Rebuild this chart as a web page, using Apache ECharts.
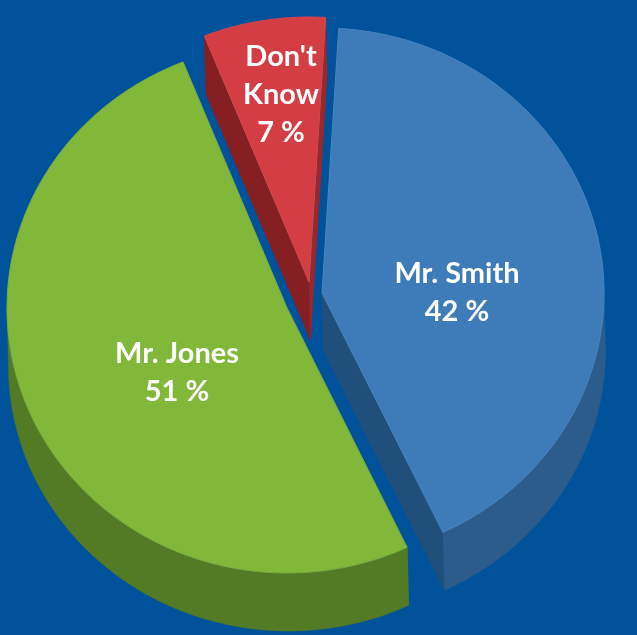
<!DOCTYPE html>
<html>
<head>
<meta charset="utf-8">
<style>html,body{margin:0;padding:0;background:#00529b}#chart{width:637px;height:635px}</style>
<script src="https://cdn.jsdelivr.net/npm/echarts@6/dist/echarts.min.js"></script>
</head>
<body>
<div id="chart"></div>
<script>
// Poll results, clockwise from the top of the pie
const candidates = ["Mr. Smith", "Mr. Jones", "Don't\nKnow"];
const shares = [42, 51, 7];

// Presentation: tilted pie drawn as an ellipse with an extruded rim
const startAngle = 3.4;
const radiusX = [282, 280, 282];
const radiusY = 265;
const extrude = { x: 1.5, y: 58 };
const hubs = [[322, 293], [287, 308], [309, 282]];
const labelSpots = [[457, 293], [177, 373], [281, 95]];
const faceColors = ['#3d7cb9', '#82b83a', '#d43d43'];
const rimColors = ['#4a86c0', '#76ad45', '#cf4a50'];
const sideColors = ['#2b5c8c', '#537a24', '#861f22'];
const startWallColors = ['#214f7b', '#587f27', '#861f22'];
const endWallColors = ['#214f7b', '#587f27', '#96282e'];
const paintOrder = [2, 1, 0];

const total = shares.reduce((a, b) => a + b, 0);
const spans = [];
shares.reduce((from, v) => {
  const to = from + v / total * 360;
  spans.push([from, to]);
  return to;
}, startAngle);

function rimPoint(i, deg, dx, dy) {
  const t = deg * Math.PI / 180;
  return [
    hubs[i][0] + dx + radiusX[i] * Math.sin(t),
    hubs[i][1] + dy - radiusY * Math.cos(t)
  ];
}
function arc(i, a, b, dx, dy) {
  const pts = [];
  const n = Math.max(2, Math.ceil(Math.abs(b - a) * 2));
  for (let k = 0; k <= n; k++) pts.push(rimPoint(i, a + (b - a) * k / n, dx, dy));
  return pts;
}
function poly(points, fill, stroke, z2) {
  return {
    type: 'polygon',
    z2: z2,
    shape: { points: points },
    style: { fill: fill, stroke: stroke || fill, lineWidth: stroke ? 1 : 0.5 }
  };
}

function renderSlice(params, api) {
  const i = api.value(0);
  const [a, b] = spans[i];
  const hub = hubs[i];
  const low = [hub[0] + extrude.x, hub[1] + extrude.y];
  const children = [];

  // Cut faces that run from the hub out to the rim
  const pa = rimPoint(i, a, 0, 0), pb = rimPoint(i, b, 0, 0);
  const qa = rimPoint(i, a, extrude.x, extrude.y), qb = rimPoint(i, b, extrude.x, extrude.y);
  children.push(poly([hub, pa, qa, low], startWallColors[i]));
  children.push(poly([hub, pb, qb, low], endWallColors[i]));

  // Outer rim, front-facing part only
  const from = Math.max(a, 90), to = Math.min(b, 270);
  if (to > from) {
    children.push(poly(
      arc(i, from, to, 0, 0).concat(arc(i, to, from, extrude.x, extrude.y)),
      sideColors[i]
    ));
  }

  // Top face
  children.push(poly([hub].concat(arc(i, a, b, 0, 0)), faceColors[i], rimColors[i]));

  // Caption
  children.push({
    type: 'text',
    z2: 10,
    style: {
      x: labelSpots[i][0],
      y: labelSpots[i][1],
      text: candidates[i] + '\n' + shares[i] + ' %',
      fill: '#ffffff',
      font: '700 29px Lato, "Open Sans", sans-serif',
      lineHeight: 38,
      align: 'center',
      verticalAlign: 'middle'
    }
  });
  return { type: 'group', children: children };
}

const chart = echarts.init(document.getElementById('chart'), null, { renderer: 'canvas' });
chart.setOption({
  backgroundColor: '#00529b',
  animation: false,
  series: [{
    type: 'custom',
    coordinateSystem: 'none',
    silent: true,
    renderItem: renderSlice,
    data: paintOrder.map(i => [i, shares[i]])
  }]
});
</script>
</body>
</html>
